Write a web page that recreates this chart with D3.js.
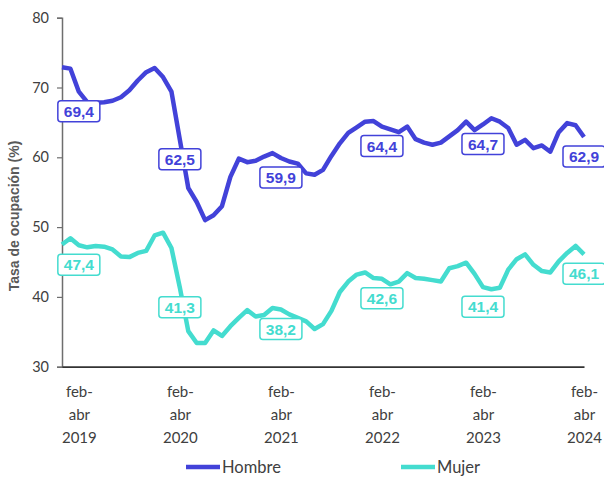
<!DOCTYPE html>
<html>
<head>
<meta charset="utf-8">
<script src="https://cdn.jsdelivr.net/npm/d3@7"></script>
<style>
  body { margin: 0; background: white; }
  svg { display: block; }
</style>
</head>
<body>
<div id="chart"></div>
<script>
var margin = {top: 17.7, right: 20, bottom: 111.3, left: 62}
var width = 604
var height = 478

// Trimestres moviles: dic-feb 2019 ... feb-abr 2024
var meses = ["ene", "feb", "mar", "abr", "may", "jun", "jul", "ago", "sep", "oct", "nov", "dic"]
var periodos = []
for (var i = 0; i < 63; i++) {
    var fin = (1 + i) % 12
    var anio = 2019 + Math.floor((1 + i) / 12)
    periodos.push(meses[(fin + 10) % 12] + "-" + meses[fin] + " " + anio)
}

var hombre = [72.9, 72.7, 69.4, 67.9, 67.8, 67.9, 68.1, 68.6, 69.6, 71.0, 72.2, 72.8, 71.5, 69.4, 62.5,
    55.6, 53.6, 51.0, 51.7, 53.0, 57.2, 59.8, 59.3, 59.5, 60.1, 60.6, 59.9, 59.4, 59.1, 57.7, 57.5,
    58.2, 60.2, 62.0, 63.5, 64.3, 65.1, 65.2, 64.4, 64.0, 63.6, 64.4, 62.6, 62.1, 61.8, 62.1, 63.0,
    63.9, 65.1, 63.9, 64.7, 65.6, 65.1, 64.2, 61.8, 62.5, 61.3, 61.7, 60.8, 63.6, 64.9, 64.6, 62.9]

var mujer = [47.5, 48.4, 47.4, 47.1, 47.3, 47.2, 46.8, 45.8, 45.7, 46.3, 46.6, 48.8, 49.2, 47.0, 41.3,
    35.1, 33.4, 33.4, 35.2, 34.4, 35.8, 37.0, 38.1, 37.2, 37.4, 38.4, 38.2, 37.5, 37.0, 36.5, 35.4,
    36.1, 38.0, 40.7, 42.2, 43.2, 43.5, 42.7, 42.6, 41.8, 42.2, 43.4, 42.7, 42.6, 42.4, 42.2, 44.1,
    44.4, 44.9, 43.3, 41.4, 41.1, 41.3, 43.9, 45.4, 46.1, 44.6, 43.7, 43.5, 45.1, 46.3, 47.3, 46.1]

var yTicks = [30, 40, 50, 60, 70, 80]
var etiquetas = periodos.filter(function(p) { return p.indexOf("feb-abr") === 0 })

var series = [
    {name: "Hombre", values: hombre, color: "#4242d9"},
    {name: "Mujer", values: mujer, color: "#44dccf"}
]

// Scales

var x_scale = d3.scalePoint()
    .domain(periodos)
    .range([margin.left, 584])

var y_scale = d3.scaleLinear()
    .domain([30, 80])
    .range([height - margin.bottom, margin.top])

var fmt = function(v) { return d3.format(".1f")(v).replace(".", ",") }

var svg = d3.select("#chart")
    .append("svg")
    .attr("width", width)
    .attr("height", height)
    .style("background-color", "white")

// Axes

var yAxis = svg.append("g")
    .attr("transform", "translate(" + margin.left + ",0)")
    .call(d3.axisLeft(y_scale).tickValues(yTicks).tickSize(5).tickPadding(8).tickFormat(d3.format("d")))
yAxis.select(".domain").attr("stroke", "#6e6e6e").attr("stroke-width", 1.5)
yAxis.selectAll(".tick line").attr("stroke", "#6e6e6e").attr("stroke-width", 1.2)
yAxis.selectAll(".tick text")
    .attr("fill", "#404040")
    .style("font-family", "Lato, sans-serif")
    .style("font-size", "14.5px")

var xAxis = svg.append("g")
    .attr("transform", "translate(0," + (height - margin.bottom) + ")")
    .call(d3.axisBottom(x_scale).tickValues(etiquetas).tickSize(0).tickSizeOuter(0))
xAxis.select(".domain").attr("stroke", "#333").attr("stroke-width", 1.8)
xAxis.selectAll(".tick text").each(function(d) {
    var t = d3.select(this)
    var parts = d.split(" ")
    var m = parts[0].split("-")
    t.text(null)
        .attr("fill", "#404040")
        .attr("y", 0)
        .attr("dy", null)
        .style("font-family", "Lato, sans-serif")
        .style("font-size", "15px")
    var lines = [m[0] + "-", m[1], parts[1]]
    lines.forEach(function(s, k) {
        t.append("tspan").attr("x", 0).attr("y", 30 + k * 23).text(s)
    })
})

// Axis title

svg.append("text")
    .attr("transform", "translate(19," + 216 + ") rotate(-90)")
    .attr("text-anchor", "middle")
    .attr("fill", "#595959")
    .style("font-family", "Liberation Sans, Arial, sans-serif")
    .style("font-weight", "bold")
    .style("font-size", "14px")
    .text("Tasa de ocupación (%)")

// Lines

var line = d3.line()
    .x(function(d, i) { return x_scale(periodos[i]) })
    .y(function(d) { return y_scale(d) })

svg.selectAll(".serie")
    .data(series)
    .enter()
    .append("path")
    .attr("class", "serie")
    .attr("d", function(s) { return line(s.values) })
    .attr("fill", "none")
    .attr("stroke", function(s) { return s.color })
    .attr("stroke-width", 4.5)
    .attr("stroke-linejoin", "round")

// Data labels at feb-abr of each year

series.forEach(function(s) {
    var pts = etiquetas.map(function(p) {
        return {p: p, v: s.values[periodos.indexOf(p)]}
    })
    var g = svg.append("g")
        .selectAll("g")
        .data(pts)
        .enter()
        .append("g")
        .attr("transform", function(d) {
            return "translate(" + x_scale(d.p) + "," + (y_scale(d.v) + 19.5) + ")"
        })
    g.append("rect")
        .attr("x", -21)
        .attr("y", -10.5)
        .attr("width", 42)
        .attr("height", 21)
        .attr("rx", 3)
        .attr("fill", "white")
        .attr("stroke", s.color)
        .attr("stroke-width", 1.5)
    g.append("text")
        .attr("text-anchor", "middle")
        .attr("dy", "0.36em")
        .attr("fill", s.color)
        .style("font-family", "Liberation Sans, Arial, sans-serif")
        .style("font-weight", "bold")
        .style("font-size", "15.5px")
        .text(function(d) { return fmt(d.v) })
})

// Legend

var legendX = [186, 401]
var legend = svg.selectAll(".legend")
    .data(series)
    .enter()
    .append("g")
    .attr("class", "legend")
    .attr("transform", function(d, i) { return "translate(" + legendX[i] + ",467)" })
legend.append("line")
    .attr("x1", 0)
    .attr("x2", 34)
    .attr("stroke", function(d) { return d.color })
    .attr("stroke-width", 4.5)
legend.append("text")
    .attr("x", 36)
    .attr("dy", "0.35em")
    .attr("fill", "#404040")
    .style("font-family", "Lato, sans-serif")
    .style("font-size", "16.5px")
    .text(function(d) { return d.name })
</script>
</body>
</html>
